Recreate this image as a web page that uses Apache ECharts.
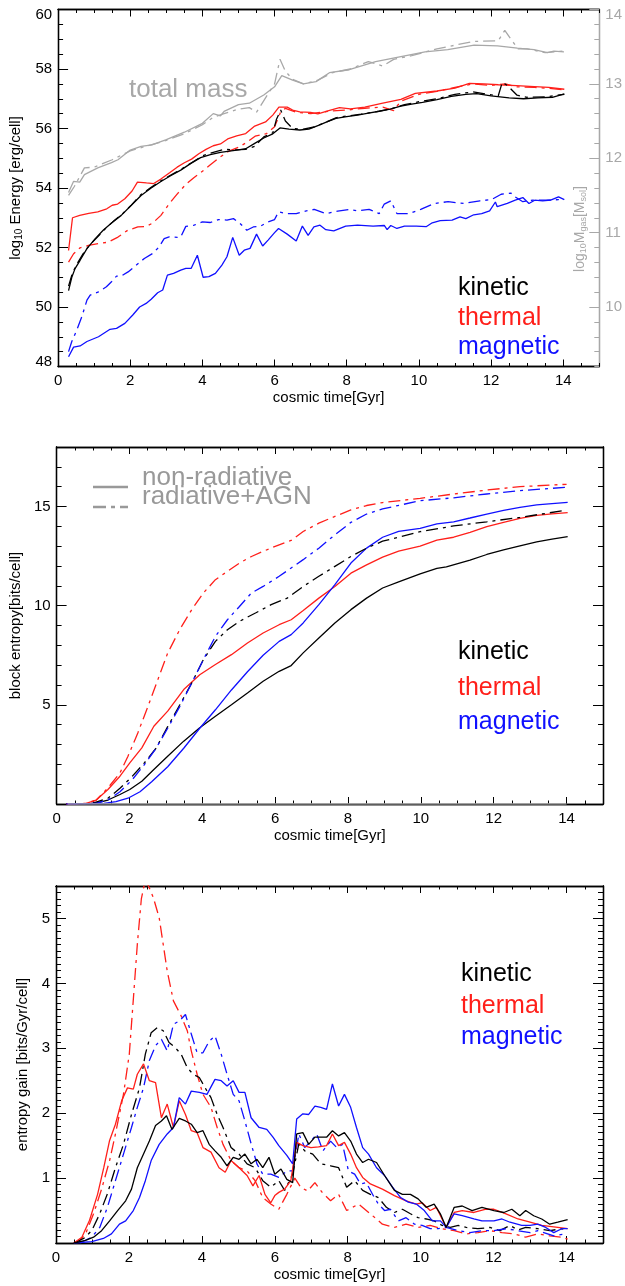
<!DOCTYPE html>
<html>
<head>
<meta charset="utf-8">
<script src="https://cdn.jsdelivr.net/npm/echarts@6/dist/echarts.min.js"></script>
<style>
  html, body { margin: 0; padding: 0; background: #fff; }
  #chart { width: 625px; height: 1286px; }
</style>
</head>
<body>
<div id="chart"></div>
<script>
// ---------- tick labels ----------
const timeLabels   = [0, 2, 4, 6, 8, 10, 12, 14];
const energyLabels = [48, 50, 52, 54, 56, 58, 60];
const massLabels   = [10, 11, 12, 13, 14];
const entropyLabels = [5, 10, 15];
const gainLabels   = [1, 2, 3, 4, 5];

// ---------- panel 1: log10 energy [erg/cell] vs cosmic time [Gyr] ----------
const enKinNR = [[0.29,50.55],[0.38,51.0],[0.47,51.29],[0.61,51.57],[0.8,51.96],[1.03,52.3],[1.25,52.58],[1.48,52.82],[1.75,53.08],[2.03,53.42],[2.3,53.75],[2.58,54.0],[2.85,54.22],[3.13,54.42],[3.4,54.6],[3.67,54.82],[3.95,55.02],[4.22,55.12],[4.5,55.2],[4.75,55.24],[5.0,55.28],[5.2,55.32],[5.45,55.5],[5.7,55.68],[5.95,55.82],[6.15,56.02],[6.4,55.98],[6.7,55.95],[6.95,55.98],[7.2,56.1],[7.45,56.22],[7.7,56.34],[8.0,56.4],[8.3,56.45],[8.6,56.52],[8.9,56.58],[9.2,56.65],[9.5,56.75],[9.8,56.82],[10.1,56.88],[10.5,56.97],[10.9,57.08],[11.3,57.15],[11.6,57.17],[12.0,57.1],[12.5,57.03],[12.9,57.0],[13.3,57.03],[13.7,57.05],[14.03,57.16]];
const enKinRad = [[0.29,50.7],[0.4,51.15],[0.55,51.5],[0.7,51.8],[0.85,52.05],[1.05,52.3],[1.3,52.62],[1.55,52.9],[1.8,53.15],[2.05,53.45],[2.3,53.78],[2.55,54.0],[2.8,54.2],[3.1,54.42],[3.4,54.62],[3.7,54.85],[4.0,55.08],[4.3,55.2],[4.6,55.3],[4.9,55.28],[5.2,55.3],[5.45,55.4],[5.7,55.72],[5.95,55.85],[6.05,56.3],[6.17,56.62],[6.3,56.25],[6.5,56.0],[6.8,55.98],[7.1,56.05],[7.4,56.2],[7.7,56.36],[8.0,56.42],[8.4,56.48],[8.8,56.56],[9.2,56.65],[9.6,56.8],[10.0,56.9],[10.5,57.0],[11.0,57.15],[11.5,57.23],[11.9,57.15],[12.2,57.1],[12.31,57.55],[12.45,57.45],[12.72,57.12],[13.0,57.05],[13.5,57.06],[14.03,57.15]];
const enThmNR = [[0.29,51.9],[0.4,53.0],[0.6,53.08],[0.85,53.15],[1.1,53.2],[1.35,53.3],[1.5,53.42],[1.65,53.46],[1.85,53.64],[2.05,53.9],[2.2,54.2],[2.45,54.17],[2.65,54.15],[2.85,54.3],[3.1,54.52],[3.3,54.7],[3.5,54.85],[3.7,54.97],[3.9,55.15],[4.1,55.3],[4.3,55.42],[4.5,55.48],[4.7,55.65],[4.95,55.75],[5.2,55.83],[5.45,56.08],[5.75,56.22],[5.95,56.45],[6.12,56.72],[6.35,56.72],[6.5,56.62],[6.7,56.56],[7.0,56.54],[7.2,56.49],[7.5,56.6],[7.8,56.7],[8.1,56.66],[8.5,56.72],[9.0,56.85],[9.5,56.98],[9.9,57.18],[10.5,57.26],[11.0,57.36],[11.4,57.52],[11.8,57.5],[12.2,57.47],[12.7,57.44],[13.2,57.41],[13.6,57.38],[14.03,57.32]];
const enThmRad = [[0.29,51.51],[0.43,51.79],[0.61,51.99],[0.84,52.07],[1.12,52.13],[1.39,52.18],[1.66,52.35],[1.93,52.58],[2.21,52.69],[2.44,52.71],[2.62,52.82],[2.85,53.08],[3.08,53.47],[3.31,53.81],[3.54,54.12],[3.77,54.35],[4.0,54.56],[4.22,54.78],[4.5,55.05],[4.75,55.25],[5.02,55.38],[5.25,55.55],[5.46,55.74],[5.78,55.83],[6.0,56.06],[6.17,56.56],[6.3,56.68],[6.6,56.55],[7.0,56.5],[7.5,56.58],[8.0,56.62],[8.5,56.68],[9.0,56.72],[9.3,56.6],[9.5,56.92],[10.0,57.15],[10.5,57.25],[11.0,57.38],[11.5,57.5],[12.0,57.45],[12.4,57.5],[12.7,57.4],[13.2,57.38],[13.6,57.35],[14.0,57.3]];
const enMagNR = [[0.29,48.33],[0.43,48.65],[0.61,48.69],[0.8,48.84],[1.12,49.0],[1.44,49.25],[1.62,49.28],[1.85,49.45],[2.07,49.73],[2.26,50.0],[2.44,50.12],[2.58,50.26],[2.76,50.48],[2.9,50.57],[3.03,51.07],[3.2,51.13],[3.4,51.24],[3.54,51.3],[3.69,51.3],[3.86,51.74],[4.02,51.0],[4.18,51.02],[4.36,51.13],[4.54,51.41],[4.68,51.69],[4.84,52.34],[5.02,51.74],[5.16,51.91],[5.32,51.97],[5.5,52.45],[5.67,52.05],[5.82,52.25],[6.0,52.5],[6.11,52.64],[6.35,52.45],[6.6,52.22],[6.77,52.72],[6.93,52.41],[7.09,52.69],[7.26,52.75],[7.42,52.6],[7.64,52.56],[7.97,52.72],[8.3,52.75],[8.73,52.72],[9.04,52.74],[9.12,52.6],[9.22,52.74],[9.39,52.64],[9.6,52.72],[9.93,52.72],[10.2,52.7],[10.37,52.83],[10.59,52.9],[10.92,52.92],[11.14,53.03],[11.3,52.97],[11.52,53.1],[11.74,53.14],[11.96,53.23],[12.12,53.53],[12.17,53.37],[12.45,53.48],[12.67,53.59],[12.88,53.68],[13.05,53.48],[13.21,53.59],[13.43,53.57],[13.65,53.59],[13.87,53.7],[14.03,53.61]];
const enMagRad = [[0.29,48.5],[0.38,48.84],[0.52,49.23],[0.66,49.68],[0.8,50.23],[0.89,50.4],[1.12,50.51],[1.34,50.68],[1.48,50.85],[1.62,51.04],[1.75,51.04],[1.94,51.18],[2.17,51.41],[2.39,51.63],[2.62,51.8],[2.8,52.02],[2.94,52.3],[3.08,52.36],[3.31,52.34],[3.4,52.36],[3.54,52.71],[3.77,52.75],[4.0,52.86],[4.22,52.84],[4.45,52.94],[4.68,52.92],[4.86,52.97],[5.05,52.8],[5.23,52.58],[5.41,52.69],[5.6,52.71],[5.82,52.86],[6.0,52.94],[6.11,53.2],[6.33,53.14],[6.6,53.14],[6.88,53.23],[7.1,53.28],[7.42,53.14],[7.75,53.22],[8.08,53.28],[8.3,53.23],[8.62,53.28],[8.9,53.14],[9.04,53.46],[9.22,53.57],[9.39,53.14],[9.72,53.14],[10.05,53.28],[10.43,53.48],[10.81,53.54],[11.25,53.48],[11.69,53.57],[12.01,53.61],[12.28,53.79],[12.55,53.83],[12.67,53.7],[12.88,53.54],[13.16,53.59],[13.54,53.59],[13.87,53.61],[13.98,53.57]];
// gas mass, log10 M_gas [M_sol] (right axis)
const massNR = [[0.29,11.54],[0.43,11.69],[0.6,11.68],[0.73,11.78],[1.1,11.87],[1.48,11.94],[1.66,11.98],[2.0,12.11],[2.3,12.16],[2.6,12.18],[3.0,12.25],[3.5,12.35],[4.0,12.47],[4.3,12.6],[4.5,12.57],[4.6,12.63],[5.0,12.72],[5.3,12.74],[5.7,12.85],[6.0,12.96],[6.2,13.11],[6.5,13.05],[6.8,13.0],[7.15,13.03],[7.52,13.15],[8.07,13.19],[8.8,13.3],[9.43,13.36],[10.17,13.43],[10.8,13.46],[11.53,13.52],[12.18,13.51],[12.73,13.48],[13.19,13.46],[13.56,13.42],[13.74,13.44],[14.02,13.43]];
const massRad = [[0.29,11.5],[0.45,11.62],[0.73,11.87],[1.0,11.88],[1.5,11.98],[2.0,12.1],[2.5,12.17],[3.0,12.24],[3.5,12.33],[4.0,12.45],[4.3,12.55],[4.6,12.6],[5.0,12.66],[5.3,12.68],[5.5,12.62],[5.8,12.85],[6.0,13.0],[6.15,13.33],[6.3,13.17],[6.5,13.06],[6.8,13.0],[7.2,13.05],[7.6,13.15],[8.1,13.2],[8.6,13.3],[9.0,13.24],[9.3,13.33],[9.8,13.38],[10.5,13.47],[11.0,13.52],[11.5,13.57],[12.2,13.58],[12.38,13.72],[12.55,13.6],[12.75,13.47],[13.0,13.47],[13.5,13.42],[14.0,13.44]];

// ---------- panel 2: block entropy [bits/cell] ----------
const bsFloor = [[0.3,0],[14.0,0]];
const bsKinNR = [[0.27,0],[0.98,0],[1.41,0.2],[1.74,0.48],[2.01,0.73],[2.34,1.15],[2.67,1.74],[3.05,2.41],[3.49,3.17],[3.93,3.84],[4.36,4.42],[4.8,5.0],[5.24,5.6],[5.67,6.19],[6.11,6.69],[6.44,6.98],[6.77,7.62],[7.2,8.37],[7.64,9.13],[8.08,9.8],[8.51,10.38],[8.95,10.89],[9.39,11.2],[9.98,11.6],[10.44,11.88],[10.7,11.96],[11.35,12.3],[11.81,12.58],[12.27,12.81],[12.72,13.02],[13.18,13.22],[13.6,13.35],[14.03,13.48]];
const bsThmNR = [[0.27,0],[0.81,0.03],[1.09,0.2],[1.41,0.73],[1.74,1.4],[2.01,2.07],[2.34,2.83],[2.67,3.92],[3.05,4.68],[3.49,5.77],[3.93,6.52],[4.36,7.03],[4.8,7.53],[5.24,8.12],[5.67,8.62],[6.11,9.04],[6.44,9.29],[6.77,9.76],[7.2,10.38],[7.64,10.97],[8.08,11.64],[8.51,12.06],[8.95,12.45],[9.39,12.75],[9.98,13.0],[10.44,13.31],[10.9,13.45],[11.35,13.7],[11.81,13.98],[12.27,14.2],[12.72,14.4],[13.18,14.55],[13.6,14.63],[14.03,14.69]];
const bsMagNR = [[0.27,0],[1.3,0.03],[1.63,0.12],[1.96,0.29],[2.29,0.62],[2.61,1.12],[3.05,1.88],[3.49,2.81],[3.93,3.82],[4.36,4.75],[4.8,5.75],[5.24,6.67],[5.67,7.5],[6.11,8.2],[6.44,8.54],[6.77,9.13],[7.2,10.05],[7.64,11.06],[8.08,12.15],[8.51,12.9],[8.95,13.45],[9.39,13.75],[9.98,13.9],[10.44,14.12],[10.9,14.23],[11.35,14.42],[11.81,14.62],[12.27,14.8],[12.72,14.96],[13.18,15.08],[13.6,15.15],[14.03,15.21]];
const bsKinRad = [[0.27,0],[0.98,0.03],[1.41,0.29],[1.74,0.79],[2.07,1.38],[2.4,2.05],[2.73,2.81],[3.05,3.9],[3.38,4.99],[3.71,6.1],[4.03,7.28],[4.36,8.2],[4.69,8.79],[5.02,9.21],[5.46,9.63],[5.89,10.05],[6.33,10.38],[6.77,10.97],[7.2,11.48],[7.64,11.98],[8.08,12.48],[8.51,12.9],[8.95,13.25],[9.39,13.45],[9.98,13.73],[10.9,14.02],[11.81,14.23],[12.72,14.45],[13.91,14.79]];
const bsThmRad = [[0.27,0],[0.81,0.03],[1.09,0.2],[1.41,0.81],[1.74,1.57],[1.96,2.41],[2.23,3.58],[2.51,4.93],[2.78,6.27],[3.05,7.61],[3.38,8.79],[3.71,9.8],[4.03,10.64],[4.36,11.31],[4.69,11.73],[5.02,12.15],[5.35,12.48],[5.67,12.74],[6.11,13.07],[6.44,13.29],[6.77,13.74],[7.2,14.16],[7.64,14.5],[8.08,14.83],[8.51,15.05],[8.95,15.2],[9.98,15.41],[10.9,15.63],[11.81,15.83],[12.72,16.0],[14.0,16.12]];
const bsMagRad = [[0.27,0],[1.09,0.03],[1.41,0.2],[1.74,0.62],[2.07,1.21],[2.4,1.96],[2.73,2.81],[3.05,3.82],[3.38,4.91],[3.71,6.1],[4.03,7.28],[4.36,8.45],[4.69,9.29],[5.02,9.96],[5.35,10.64],[5.67,10.97],[6.11,11.48],[6.44,11.9],[6.77,12.32],[7.2,12.9],[7.64,13.57],[8.08,14.2],[8.51,14.62],[8.95,14.88],[9.98,15.29],[10.9,15.44],[11.81,15.63],[12.72,15.8],[14.0,15.97]];

// ---------- panel 3: entropy gain [bits/Gyr/cell] ----------
const gnKinNR = [[0.49,0],[0.81,0.04],[1.03,0.09],[1.25,0.19],[1.47,0.34],[1.69,0.5],[1.91,0.65],[2.07,0.83],[2.23,1.16],[2.4,1.37],[2.56,1.57],[2.73,1.81],[2.89,1.88],[3.03,1.96],[3.18,1.75],[3.38,1.92],[3.55,1.88],[3.71,1.83],[3.87,1.7],[4.03,1.73],[4.2,1.52],[4.36,1.42],[4.53,1.32],[4.69,1.19],[4.86,1.32],[5.02,1.29],[5.18,1.37],[5.35,1.22],[5.51,1.29],[5.67,1.16],[5.84,1.32],[6.0,1.06],[6.17,1.14],[6.33,0.98],[6.49,0.93],[6.6,1.68],[6.77,1.7],[6.93,1.52],[7.1,1.63],[7.26,1.63],[7.42,1.63],[7.58,1.73],[7.75,1.65],[7.91,1.7],[8.08,1.57],[8.24,1.37],[8.41,1.24],[8.57,1.29],[8.79,1.24],[9.01,1.04],[9.28,0.81],[9.5,0.75],[9.72,0.75],[9.93,0.68],[10.15,0.55],[10.37,0.6],[10.54,0.45],[10.7,0.24],[10.92,0.55],[11.14,0.57],[11.41,0.5],[11.68,0.55],[12.01,0.5],[12.28,0.47],[12.5,0.52],[12.72,0.42],[12.88,0.5],[13.1,0.42],[13.32,0.37],[13.54,0.29],[13.76,0.32],[14.03,0.36]];
const gnThmNR = [[0.49,0],[0.71,0.09],[0.92,0.35],[1.14,0.75],[1.31,1.16],[1.47,1.58],[1.63,1.83],[1.8,2.19],[1.96,2.39],[2.12,2.37],[2.23,2.6],[2.4,2.76],[2.56,2.5],[2.73,2.47],[2.89,1.93],[3.05,2.14],[3.22,1.78],[3.38,2.19],[3.55,1.98],[3.71,1.73],[3.87,1.7],[4.03,1.47],[4.25,1.4],[4.47,1.16],[4.64,1.09],[4.8,1.27],[5.02,1.16],[5.24,1.04],[5.4,0.88],[5.57,1.04],[5.73,0.75],[5.89,0.62],[6.0,0.73],[6.11,0.78],[6.27,0.83],[6.44,0.96],[6.6,1.55],[6.77,1.5],[6.99,1.47],[7.2,1.48],[7.42,1.5],[7.58,1.68],[7.75,1.5],[7.91,1.55],[8.08,1.37],[8.24,1.16],[8.41,1.01],[8.62,0.91],[8.95,0.83],[9.28,0.73],[9.6,0.65],[9.88,0.6],[10.04,0.62],[10.26,0.5],[10.43,0.55],[10.7,0.24],[10.92,0.47],[11.14,0.5],[11.46,0.47],[11.79,0.52],[12.01,0.52],[12.34,0.45],[12.67,0.37],[13.0,0.32],[13.32,0.27],[13.65,0.25],[14.03,0.22]];
const gnMagNR = [[0.49,0],[0.98,0.02],[1.3,0.07],[1.52,0.14],[1.74,0.29],[1.91,0.34],[2.12,0.5],[2.29,0.7],[2.45,0.96],[2.61,1.27],[2.83,1.52],[3.05,1.68],[3.22,1.78],[3.38,2.24],[3.55,2.14],[3.71,2.34],[3.93,2.32],[4.14,2.29],[4.36,2.52],[4.53,2.5],[4.69,2.42],[4.86,2.5],[5.02,2.32],[5.18,2.32],[5.35,1.93],[5.57,1.78],[5.78,1.75],[5.95,1.63],[6.11,1.5],[6.33,1.35],[6.49,1.22],[6.6,1.91],[6.77,1.99],[6.93,1.98],[7.1,2.11],[7.26,2.09],[7.42,2.06],[7.58,2.45],[7.75,2.11],[7.91,2.29],[8.08,2.09],[8.24,1.78],[8.41,1.47],[8.57,1.37],[8.79,1.16],[9.01,1.04],[9.23,0.86],[9.45,0.7],[9.66,0.63],[9.88,0.6],[10.1,0.5],[10.32,0.34],[10.54,0.34],[10.7,0.24],[10.92,0.45],[11.14,0.42],[11.46,0.37],[11.68,0.34],[12.01,0.34],[12.23,0.37],[12.45,0.32],[12.77,0.27],[13.0,0.27],[13.21,0.29],[13.43,0.24],[13.65,0.16],[13.87,0.22],[14.03,0.22]];
const gnKinRad = [[0.49,0],[0.76,0.07],[0.98,0.19],[1.2,0.45],[1.41,0.76],[1.63,1.16],[1.85,1.52],[2.07,1.98],[2.29,2.39],[2.45,2.91],[2.61,3.24],[2.78,3.32],[2.94,3.27],[3.1,3.09],[3.27,3.01],[3.43,2.91],[3.6,2.7],[3.76,2.6],[3.93,2.55],[4.09,2.39],[4.25,2.24],[4.42,1.98],[4.58,1.78],[4.8,1.47],[5.02,1.37],[5.24,1.22],[5.46,1.16],[5.67,0.96],[5.89,0.86],[6.11,0.96],[6.27,0.81],[6.49,1.06],[6.66,1.53],[6.82,1.42],[7.04,1.37],[7.26,1.22],[7.53,1.19],[7.75,1.16],[7.97,0.86],[8.19,0.96],[8.41,0.81],[8.62,0.75],[8.84,0.7],[9.06,0.55],[9.28,0.47],[9.5,0.52],[9.72,0.45],[9.93,0.39],[10.15,0.37],[10.37,0.34],[10.59,0.27],[10.81,0.24],[11.03,0.27],[11.25,0.24],[11.57,0.22],[11.9,0.24],[12.17,0.19],[12.45,0.27],[12.67,0.2],[12.88,0.24],[13.21,0.22],[13.54,0.19],[13.87,0.22],[14.03,0.19]];
const gnThmRad = [[0.49,0],[0.65,0.04],[0.81,0.14],[1.03,0.45],[1.25,0.83],[1.47,1.27],[1.63,1.68],[1.85,2.29],[2.01,2.91],[2.12,3.75],[2.23,4.6],[2.34,5.3],[2.45,5.6],[2.56,5.47],[2.67,5.32],[2.83,5.01],[2.94,4.6],[3.05,4.19],[3.22,3.73],[3.43,3.5],[3.6,3.27],[3.71,2.96],[3.87,2.6],[4.03,2.29],[4.25,2.09],[4.42,1.78],[4.58,1.52],[4.8,1.27],[5.02,1.16],[5.24,1.11],[5.46,0.96],[5.67,0.7],[5.89,0.6],[6.11,0.52],[6.33,0.75],[6.55,1.0],[6.71,0.86],[6.9,0.8],[7.1,0.93],[7.3,0.78],[7.53,0.65],[7.75,0.75],[7.97,0.5],[8.3,0.6],[8.62,0.45],[8.95,0.29],[9.28,0.24],[9.6,0.29],[9.93,0.24],[10.26,0.27],[10.59,0.22],[10.92,0.19],[11.25,0.14],[11.57,0.16],[11.9,0.19],[12.23,0.16],[12.56,0.14],[12.88,0.09],[13.21,0.14],[13.54,0.11],[13.87,0.09],[14.03,0.06]];
const gnMagRad = [[0.65,0],[0.98,0.09],[1.2,0.24],[1.41,0.55],[1.63,0.96],[1.85,1.37],[2.07,1.78],[2.23,2.09],[2.4,2.39],[2.56,2.81],[2.73,3.04],[2.89,3.14],[3.05,2.96],[3.22,3.37],[3.38,3.42],[3.55,3.52],[3.71,3.22],[3.87,2.93],[4.03,2.93],[4.2,3.11],[4.36,3.19],[4.53,2.91],[4.69,2.6],[4.86,2.29],[5.02,2.19],[5.18,1.88],[5.35,1.53],[5.51,1.22],[5.67,1.06],[5.89,1.06],[6.11,1.01],[6.33,1.11],[6.49,1.11],[6.66,1.68],[6.82,1.47],[6.99,1.57],[7.15,1.68],[7.32,1.42],[7.53,1.57],[7.7,1.47],[7.86,1.52],[8.02,1.11],[8.19,1.06],[8.35,0.91],[8.51,0.93],[8.68,0.75],[8.84,0.6],[9.01,0.5],[9.17,0.52],[9.39,0.34],[9.6,0.39],[9.83,0.29],[10.04,0.27],[10.26,0.22],[10.48,0.22],[10.7,0.24],[11.03,0.19],[11.35,0.16],[11.68,0.19],[12.01,0.19],[12.34,0.22],[12.67,0.19],[13.0,0.16],[13.21,0.19],[13.65,0.11],[13.98,0.14]];

// ---------- styling ----------
const FONT = '"Liberation Sans", Arial, Helvetica, sans-serif';
const BLACK = '#000000', RED = '#ff1f1a', BLUE = '#1010ff', GRAY = '#a8a8a8', LEGEND_GRAY = '#999999';
const DASHDOT = [12, 5, 3, 5];

// evenly spaced tick positions between a and b
function steps(a, b, s) {
  const out = [];
  for (let i = 0; a + i * s <= b + 1e-9; i++) out.push(+(a + i * s).toFixed(4));
  return out;
}

const GRID_TOPS = [9.5, 447, 886];
const GRID_H = 357;
const grids = GRID_TOPS.map(t => ({ left: 56, width: 547, top: t, height: GRID_H, containLabel: false }));

// end labels of the energy panel sit slightly inside the frame
function edgeLabels(lo, hi, color) {
  const base = { color: color, fontSize: 15, fontFamily: FONT };
  return {
    formatter: v => (v === hi ? '{dn|' + v + '}' : v === lo ? '{up|' + v + '}' : String(v)),
    rich: {
      dn: Object.assign({ padding: [11, 0, 0, 0] }, base),
      up: Object.assign({ padding: [0, 0, 10, 0] }, base)
    }
  };
}

function axis(gi, pos, min, max, ticks, tickLen, labels, color, extra, labelExtra) {
  const a = {
    type: 'value', gridIndex: gi, position: pos, min: min, max: max,
    axisLine: { show: true, onZero: false, lineStyle: { color: color, width: 1.3 } },
    axisTick: { show: true, inside: true, length: tickLen, customValues: ticks, lineStyle: { color: color, width: 1 } },
    axisLabel: labels ? Object.assign({ show: true, customValues: labels, color: color, fontSize: 15, fontFamily: FONT, margin: (pos === 'left' || pos === 'right') ? 6 : 7 }, labelExtra || {}) : { show: false },
    splitLine: { show: false },
    minorTick: { show: false },
    silent: true
  };
  return Object.assign(a, extra || {});
}

const xAxes = [], yAxes = [];
const xMajor = timeLabels, xMinor = steps(0, 15, 0.5);

// vertical ranges per panel: [min, max, major ticks, minor ticks, labels]
const panelY = [
  [48, 60, energyLabels, steps(48, 60, 0.5), energyLabels],
  [0, 18, steps(0, 15, 5), steps(0, 18, 1), entropyLabels],
  [0, 5.5, steps(0, 5, 1), steps(0, 5.5, 0.1), gainLabels]
];
const yNames = [
  'log{s|10} Energy [erg/cell]',
  'block entropy[bits/cell]',
  'entropy gain [bits/Gyr/cell]'
];
const yNameGaps = [31, 31, 23];

function nameStyle(color) {
  return {
    color: color, fontSize: 15, fontFamily: FONT,
    rich: {
      s: { fontSize: 10, fontFamily: FONT, color: color, padding: [8, 0, 0, 0] }
    }
  };
}

for (let g = 0; g < 3; g++) {
  xAxes.push(axis(g, 'bottom', 0, 15, xMajor, 7, timeLabels, BLACK, {
    name: 'cosmic time[Gyr]', nameLocation: 'middle', nameGap: 24,
    nameTextStyle: { color: BLACK, fontSize: 15, fontFamily: FONT }
  }));
  xAxes.push(axis(g, 'bottom', 0, 15, xMinor, 3.5, null, BLACK));
  xAxes.push(axis(g, 'top', 0, 15, xMajor, 7, null, BLACK));
  xAxes.push(axis(g, 'top', 0, 15, xMinor, 3.5, null, BLACK));

  const [lo, hi, maj, mnr, lab] = panelY[g];
  yAxes.push(axis(g, 'left', lo, hi, maj, 10, lab, BLACK, {
    name: yNames[g], nameLocation: 'middle', nameRotate: 90, nameGap: yNameGaps[g],
    nameTextStyle: nameStyle(BLACK)
  }, g === 0 ? edgeLabels(lo, hi, BLACK) : null));
  yAxes.push(axis(g, 'left', lo, hi, mnr, 5, null, BLACK));
  if (g === 0) {
    // gas mass scale on the right of the energy panel
    yAxes.push(axis(g, 'right', 9.2, 14, massLabels, 10, massLabels, GRAY, null, edgeLabels(9.2, 14, GRAY)));
    yAxes.push(axis(g, 'right', 9.2, 14, steps(9.2, 14, 0.2), 5, null, GRAY));
  } else {
    yAxes.push(axis(g, 'right', lo, hi, maj, 10, null, BLACK));
    yAxes.push(axis(g, 'right', lo, hi, mnr, 5, null, BLACK));
  }
}

function line(data, color, dashed, g, yIdx, z) {
  return {
    type: 'line', data: data, xAxisIndex: 4 * g, yAxisIndex: yIdx === undefined ? 4 * g : yIdx,
    showSymbol: false, symbol: 'none', animation: false, silent: true, clip: true,
    lineStyle: { color: color, width: 1.3, type: dashed ? DASHDOT : 'solid', cap: 'butt' },
    z: z || 2
  };
}

const series = [
  // energy panel
  line(massNR, GRAY, false, 0, 2), line(massRad, GRAY, true, 0, 2),
  line(enMagNR, BLUE, false, 0), line(enMagRad, BLUE, true, 0),
  line(enThmRad, RED, true, 0), line(enThmNR, RED, false, 0),
  line(enKinRad, BLACK, true, 0), line(enKinNR, BLACK, false, 0),
  // block entropy panel
  line(bsKinNR, BLACK, false, 1), line(bsThmNR, RED, false, 1), line(bsMagNR, BLUE, false, 1),
  line(bsKinRad, BLACK, true, 1), line(bsThmRad, RED, true, 1), line(bsMagRad, BLUE, true, 1),
  line(bsFloor, GRAY, false, 1, undefined, 3),
  // entropy gain panel
  line(gnThmRad, RED, true, 2), line(gnKinRad, BLACK, true, 2), line(gnMagRad, BLUE, true, 2),
  line(gnThmNR, RED, false, 2), line(gnMagNR, BLUE, false, 2), line(gnKinNR, BLACK, false, 2)
];

function label(text, x, y, color, size) {
  return {
    type: 'text', x: x, y: y, silent: true, z: 10,
    style: { text: text, fill: color, fontSize: size, fontFamily: FONT, align: 'left', verticalAlign: 'middle' }
  };
}

const graphics = [
  label('total mass', 129, 90, GRAY, 26),
  label('kinetic', 458, 288, BLACK, 25), label('thermal', 458, 318, RED, 25), label('magnetic', 458, 347, BLUE, 25),
  label('kinetic', 458, 652, BLACK, 25), label('thermal', 458, 688, RED, 25), label('magnetic', 458, 722, BLUE, 25),
  label('kinetic', 461, 974, BLACK, 25), label('thermal', 461, 1006, RED, 25), label('magnetic', 461, 1037, BLUE, 25),
  // line-style key of the entropy panel
  { type: 'line', silent: true, z: 10, shape: { x1: 93, y1: 487, x2: 128, y2: 487 }, style: { stroke: LEGEND_GRAY, lineWidth: 2.6 } },
  { type: 'line', silent: true, z: 10, shape: { x1: 93, y1: 507, x2: 128, y2: 507 }, style: { stroke: LEGEND_GRAY, lineWidth: 2.6, lineDash: [13, 5, 4, 5] } },
  label('non-radiative', 142, 478, LEGEND_GRAY, 26),
  label('radiative+AGN', 142, 497, LEGEND_GRAY, 26),
  // right-hand axis title of the energy panel
  {
    type: 'text', x: 580, y: 229, rotation: Math.PI / 2, silent: true, z: 10,
    style: {
      text: 'log{s|10}M{s|gas}[M{s|sol}]', fill: GRAY, fontSize: 14, fontFamily: FONT,
      align: 'center', verticalAlign: 'middle',
      rich: { s: { fontSize: 9, fontFamily: FONT, fill: GRAY, padding: [7, 0, 0, 0] } }
    }
  }
];

const chart = echarts.init(document.getElementById('chart'), null, { renderer: 'canvas' });
chart.setOption({
  backgroundColor: '#ffffff',
  animation: false,
  grid: grids,
  xAxis: xAxes,
  yAxis: yAxes,
  series: series,
  graphic: graphics
});
</script>
</body>
</html>
